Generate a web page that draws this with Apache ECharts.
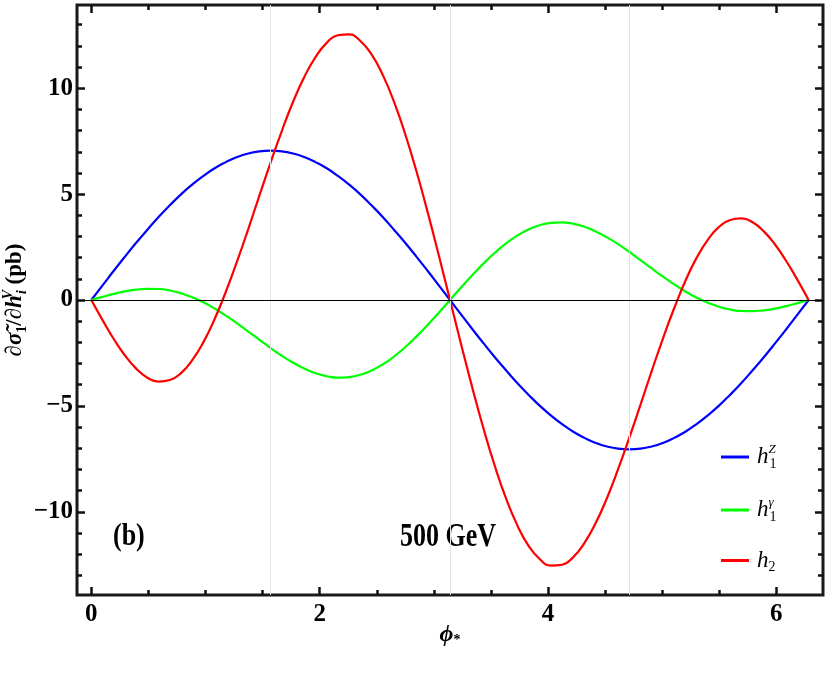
<!DOCTYPE html>
<html>
<head>
<meta charset="utf-8">
<script src="https://cdn.jsdelivr.net/npm/echarts@6/dist/echarts.min.js"></script>
<style>
  html, body { margin: 0; padding: 0; background: #fff; }
  #chart { width: 828px; height: 673px; }
</style>
</head>
<body>
<div id="chart"></div>
<script>
// phi* sample points, 0 .. 2pi in steps of pi/32
var phi = [0, 0.0982, 0.1963, 0.2945, 0.3927, 0.4909, 0.5890, 0.6872, 0.7854, 0.8836, 0.9817, 1.0799,
  1.1781, 1.2763, 1.3744, 1.4726, 1.5708, 1.6690, 1.7671, 1.8653, 1.9635, 2.0617, 2.1598, 2.2580,
  2.3562, 2.4544, 2.5525, 2.6507, 2.7489, 2.8471, 2.9452, 3.0434, 3.1416, 3.2398, 3.3379, 3.4361,
  3.5343, 3.6325, 3.7306, 3.8288, 3.9270, 4.0252, 4.1233, 4.2215, 4.3197, 4.4179, 4.5160, 4.6142,
  4.7124, 4.8106, 4.9087, 5.0069, 5.1051, 5.2033, 5.3014, 5.3996, 5.4978, 5.5960, 5.6941, 5.7923,
  5.8905, 5.9887, 6.0868, 6.1850, 6.2832];

var h1Z = [0, 0.69, 1.38, 2.05, 2.70, 3.32, 3.92, 4.47, 4.99, 5.45, 5.86, 6.22, 6.51, 6.75, 6.92, 7.02,
  7.05, 7.02, 6.92, 6.75, 6.51, 6.22, 5.86, 5.45, 4.99, 4.47, 3.92, 3.32, 2.70, 2.05, 1.38, 0.69,
  0, -0.69, -1.38, -2.05, -2.70, -3.32, -3.92, -4.47, -4.99, -5.45, -5.86, -6.22, -6.51, -6.75, -6.92, -7.02,
  -7.05, -7.02, -6.92, -6.75, -6.51, -6.22, -5.86, -5.45, -4.99, -4.47, -3.92, -3.32, -2.70, -2.05, -1.38, -0.69, 0];
var h1g = [0, 0.15, 0.29, 0.41, 0.49, 0.53, 0.52, 0.45, 0.32, 0.13, -0.11, -0.40, -0.74, -1.10, -1.49, -1.88,
  -2.27, -2.64, -2.96, -3.24, -3.46, -3.60, -3.67, -3.64, -3.53, -3.33, -3.04, -2.67, -2.23, -1.73, -1.18, -0.60,
  0, 0.60, 1.18, 1.73, 2.23, 2.67, 3.04, 3.33, 3.53, 3.64, 3.67, 3.60, 3.46, 3.24, 2.96, 2.64,
  2.27, 1.88, 1.49, 1.10, 0.74, 0.40, 0.11, -0.13, -0.32, -0.45, -0.52, -0.53, -0.49, -0.41, -0.29, -0.15, 0];
var h2 = [0, -0.95, -1.84, -2.62, -3.24, -3.67, -3.85, -3.78, -3.45, -2.84, -1.99, -0.90, 0.39, 1.82, 3.35, 4.94,
  6.50, 7.99, 9.36, 10.53, 11.47, 12.14, 12.50, 12.54, 12.23, 11.60, 10.63, 9.37, 7.84, 6.09, 4.16, 2.11,
  0, -2.11, -4.16, -6.09, -7.84, -9.37, -10.63, -11.60, -12.23, -12.54, -12.50, -12.14, -11.47, -10.53, -9.36, -7.99,
  -6.50, -4.94, -3.35, -1.82, -0.39, 0.90, 1.99, 2.84, 3.45, 3.78, 3.85, 3.67, 3.24, 2.62, 1.84, 0.95, 0];

// ticks
var xMajor = [0, 2, 4, 6];
var xMinor = [0.5, 1, 1.5, 2.5, 3, 3.5, 4.5, 5, 5.5];
var yMajor = [-10, -5, 0, 5, 10];
var yMinor = [-13, -12, -11, -9, -8, -7, -6, -4, -3, -2, -1, 1, 2, 3, 4, 6, 7, 8, 9, 11, 12, 13];
var gridX = [1.5708, 3.1416, 4.7124];
var xRange = [-0.1257, 6.4089];
var yRange = [-13.93, 13.93];

var serif = "'Liberation Serif', 'Times New Roman', serif";
var chart = echarts.init(document.getElementById('chart'));

function pairs(ys) {
  var out = [];
  for (var i = 0; i < phi.length; i++) out.push([phi[i], ys[i]]);
  return out;
}

// one axis = one set of inside ticks
function tickAxis(pos, range, vals, len, withLabel) {
  return {
    type: 'value',
    position: pos,
    min: range[0],
    max: range[1],
    axisLine: { show: false, onZero: false },
    splitLine: { show: false },
    axisTick: {
      show: true, inside: true, length: len, customValues: vals,
      lineStyle: { color: '#111', width: 2.5 }
    },
    axisLabel: {
      show: !!withLabel, customValues: vals,
      color: '#000', fontFamily: serif, fontWeight: 'bold', fontSize: 25,
      margin: pos === 'bottom' ? 7 : 4,
      formatter: function (v) { return String(v).replace('-', '\u2212'); }
    }
  };
}

var xMain = tickAxis('bottom', xRange, xMajor, 8, true);
xMain.name = '{p|ϕ}{s|*}';
xMain.nameLocation = 'middle';
xMain.nameGap = 28;
xMain.nameMoveOverlap = false;
xMain.nameTextStyle = {
  rich: {
    p: { fontFamily: serif, fontStyle: 'italic', fontWeight: 'bold', fontSize: 24, color: '#000' },
    s: { fontFamily: serif, fontWeight: 'bold', fontSize: 14, color: '#000', verticalAlign: 'bottom' }
  }
};

var yMain = tickAxis('left', yRange, yMajor, 8, true);
yMain.name = '{d|∂}{i|σ̃}{s|1}{d|/∂}{i|h}{up|V}{si|i}{d| (pb)}';
yMain.nameLocation = 'middle';
yMain.nameGap = 48;
yMain.nameMoveOverlap = false;
yMain.nameTextStyle = {
  rich: {
    d: { fontFamily: serif, fontWeight: 'bold', fontSize: 23, color: '#000', lineHeight: 28 },
    i: { fontFamily: serif, fontWeight: 'bold', fontStyle: 'italic', fontSize: 23, color: '#000', lineHeight: 28 },
    s: { fontFamily: serif, fontWeight: 'bold', fontSize: 14, color: '#000', verticalAlign: 'bottom' },
    si: { fontFamily: serif, fontWeight: 'bold', fontStyle: 'italic', fontSize: 14, color: '#000', verticalAlign: 'bottom' },
    up: { fontFamily: serif, fontWeight: 'bold', fontStyle: 'italic', fontSize: 14, color: '#000', verticalAlign: 'top', width: 1 }
  }
};

var legendText = {
  h1Z: '{h|h}{up|Z}{dn|1}',
  h1g: '{h|h}{up|γ}{dn|1}',
  h2: '{h|h}{dn|2}'
};

var option = {
  animation: false,
  backgroundColor: '#fff',
  grid: {
    left: 77, right: 5, top: 5, bottom: 78,
    show: true, borderColor: '#1a1a1a', borderWidth: 3,
    outerBoundsMode: 'none'
  },
  xAxis: [
    xMain,
    tickAxis('bottom', xRange, xMinor, 5),
    tickAxis('top', xRange, xMajor, 8),
    tickAxis('top', xRange, xMinor, 5)
  ],
  yAxis: [
    yMain,
    tickAxis('left', yRange, yMinor, 5),
    tickAxis('right', yRange, yMajor, 8),
    tickAxis('right', yRange, yMinor, 5)
  ],
  legend: {
    orient: 'vertical',
    left: 716,
    top: 438,
    icon: 'rect',
    itemWidth: 28,
    itemHeight: 3,
    itemGap: 25,
    data: ['h1Z', 'h1g', 'h2'],
    formatter: function (name) { return legendText[name]; },
    textStyle: {
      rich: {
        h: { fontFamily: serif, fontStyle: 'italic', fontSize: 23, color: '#000', lineHeight: 28, padding: [0, 0, 0, 3] },
        up: { fontFamily: serif, fontStyle: 'italic', fontSize: 13, color: '#000', verticalAlign: 'top', width: 1 },
        dn: { fontFamily: serif, fontSize: 14, color: '#000', verticalAlign: 'bottom' }
      }
    }
  },
  graphic: [
    { type: 'text', x: 113, y: 537, scaleY: 1.25,
      style: { text: '(b)', font: 'bold 26px ' + serif, fill: '#000', verticalAlign: 'middle' } },
    { type: 'text', x: 448, y: 537, scaleY: 1.3,
      style: { text: '500 GeV', font: 'bold 26px ' + serif, fill: '#000', align: 'center', verticalAlign: 'middle' } }
  ],
  series: [
    {
      name: 'h1Z', type: 'line', data: pairs(h1Z), smooth: true, symbol: 'none',
      color: '#0000ff', lineStyle: { width: 2.2, color: '#0000ff' },
      markLine: {
        silent: true, symbol: 'none', label: { show: false },
        data: gridX.map(function (v) {
          return { xAxis: v, lineStyle: { color: '#e4e4e4', width: 1, type: 'solid' } };
        }).concat([{ yAxis: 0, lineStyle: { color: '#000', width: 1, type: 'solid' } }])
      }
    },
    {
      name: 'h1g', type: 'line', data: pairs(h1g), smooth: true, symbol: 'none',
      color: '#00ff00', lineStyle: { width: 2.2, color: '#00ff00' }
    },
    {
      name: 'h2', type: 'line', data: pairs(h2), smooth: true, symbol: 'none',
      color: '#ff0000', lineStyle: { width: 2.2, color: '#ff0000' }
    }
  ]
};

chart.setOption(option);
</script>
</body>
</html>
